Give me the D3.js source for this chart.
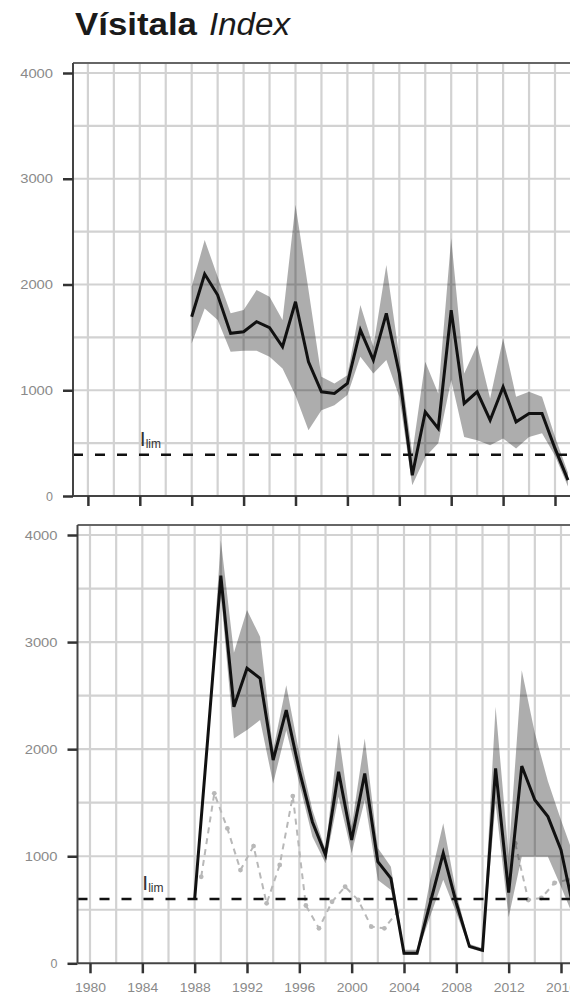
<!DOCTYPE html>
<html>
<head>
<meta charset="utf-8">
<script src="https://cdn.jsdelivr.net/npm/d3@7"></script>
<style>
  body { margin: 0; background: #fff; }
  svg { display: block; }
</style>
</head>
<body>
<svg id="chart" width="570" height="1000"></svg>
<script>
// ---- data ----
const years = [1988, 1989, 1990, 1991, 1992, 1993, 1994, 1995, 1996, 1997,
               1998, 1999, 2000, 2001, 2002, 2003, 2004, 2005, 2006, 2007,
               2008, 2009, 2010, 2011, 2012, 2013, 2014, 2015, 2016, 2017];

// upper panel: index with its confidence band
const indexA = [1695, 2099, 1900, 1538, 1553, 1648, 1591, 1411, 1837, 1269,
                985, 970, 1064, 1569, 1285, 1727, 1159, 196, 795, 638,
                1758, 875, 985, 717, 1032, 701, 780, 780, 450, 150];
const upperA = [1980, 2421, 2074, 1727, 1758, 1948, 1884, 1664, 2753, 1950,
                1127, 1064, 1143, 1806, 1411, 2185, 1316, 401, 1269, 970,
                2437, 1159, 1427, 922, 1490, 938, 985, 938, 560, 220];
const lowerA = [1443, 1774, 1664, 1364, 1373, 1373, 1316, 1206, 950, 622,
                812, 859, 954, 1316, 1159, 1285, 938, 101, 369, 500,
                1096, 559, 527, 480, 543, 449, 559, 593, 380, 90];
const limitA = 390;

// lower panel: index with its confidence band
const indexB = [600, 2100, 3620, 2396, 2755, 2661, 1898, 2365, 1800, 1320,
                1013, 1789, 1152, 1773, 949, 793, 93, 93, 562, 1028,
                562, 158, 121, 1820, 660, 1842, 1525, 1370, 1059, 480];
const upperB = [600, 2140, 3950, 2900, 3299, 3050, 1991, 2597, 1960, 1432,
                1059, 2146, 1277, 2100, 1076, 902, 127, 127, 780, 1308,
                655, 180, 140, 2396, 1000, 2736, 2150, 1700, 1338, 1000];
const lowerB = [600, 2060, 3450, 2100, 2179, 2272, 1680, 2177, 1680, 1183,
                935, 1556, 1028, 1525, 778, 684, 81, 81, 438, 780,
                469, 140, 105, 1494, 430, 996, 996, 996, 716, 420];
const limitB = 600;

// lower panel: second survey series (mid-year), with a gap 2004-2011
const surveyYears = [1988, 1989, 1990, 1991, 1992, 1993, 1994, 1995, 1996, 1997,
                     1998, 1999, 2000, 2001, 2002, 2003, 2004, 2005, 2006, 2007,
                     2008, 2009, 2010, 2011, 2012, 2013, 2014, 2015, 2016];
const surveyB = [808, 1587, 1260, 871, 1095, 560, 918, 1562, 540, 327,
                 575, 715, 591, 342, 327, 480, null, null, null, null,
                 null, null, null, null, 1120, 591, 610, 750, 780];

const yTicks = [0, 1000, 2000, 3000, 4000];
const xTicks = [1980, 1984, 1988, 1992, 1996, 2000, 2004, 2008, 2012, 2016];
const xGrid = d3.range(1980, 2020, 2);
const yGrid = d3.range(500, 4001, 500);

// ---- layout ----
const panels = [
  { top: 63, bottom: 496, y4000: 73, left: 73, x1980: 87.9, x2016: 555,
    idx: indexA, hi: upperA, lo: lowerA, limit: limitA, survey: null, labels: false },
  { top: 525, bottom: 963.3, y4000: 535, left: 77.5, x1980: 90, x2016: 561,
    idx: indexB, hi: upperB, lo: lowerB, limit: limitB, survey: surveyB, labels: true }
];
const right = 640;
const font = "'Liberation Sans', Arial, sans-serif";

const svg = d3.select("#chart");

// title
svg.append("text")
  .attr("x", 75).attr("y", 35)
  .attr("font-family", font).attr("font-weight", "bold")
  .attr("font-size", 31).attr("fill", "#1a1a1a")
  .attr("textLength", 122).attr("lengthAdjust", "spacingAndGlyphs")
  .text("Vísitala");
svg.append("text")
  .attr("x", 209).attr("y", 35)
  .attr("font-family", font).attr("font-style", "italic")
  .attr("font-size", 31).attr("fill", "#1a1a1a")
  .attr("textLength", 81).attr("lengthAdjust", "spacingAndGlyphs")
  .text("Index");

panels.forEach(p => {
  const x = d3.scaleLinear().domain([1980, 2016]).range([p.x1980, p.x2016]);
  const y = d3.scaleLinear().domain([0, 4000]).range([p.bottom, p.y4000]);
  const g = svg.append("g");

  // grid
  g.append("g").selectAll("line").data(yGrid).join("line")
    .attr("x1", p.left).attr("x2", right)
    .attr("y1", d => y(d)).attr("y2", d => y(d))
    .attr("stroke", "#d2d2d2").attr("stroke-width", 2.2);
  g.append("g").selectAll("line").data(xGrid).join("line")
    .attr("x1", d => x(d)).attr("x2", d => x(d))
    .attr("y1", p.top).attr("y2", p.bottom)
    .attr("stroke", "#d2d2d2").attr("stroke-width", 2.2);

  // second survey series, dashed grey with points
  if (p.survey) {
    const pts = surveyYears.map((yr, i) => ({ yr: yr + 0.5, v: p.survey[i] }));
    g.append("path")
      .datum(pts)
      .attr("fill", "none").attr("stroke", "#b8b8b8")
      .attr("stroke-width", 2).attr("stroke-dasharray", "6,5")
      .attr("d", d3.line().defined(d => d.v != null)
        .x(d => x(d.yr)).y(d => y(d.v)));
    g.append("g").selectAll("circle").data(pts.filter(d => d.v != null)).join("circle")
      .attr("cx", d => x(d.yr)).attr("cy", d => y(d.v)).attr("r", 2.4)
      .attr("fill", "#b8b8b8");
  }

  // confidence band
  const rows = years.map((yr, i) => ({ yr, v: p.idx[i], lo: p.lo[i], hi: p.hi[i] }));
  g.append("path")
    .datum(rows)
    .attr("fill", "#000").attr("fill-opacity", 0.32)
    .attr("d", d3.area().x(d => x(d.yr)).y0(d => y(d.lo)).y1(d => y(d.hi)));

  // limit reference line
  g.append("line")
    .attr("x1", p.left).attr("x2", right)
    .attr("y1", y(p.limit)).attr("y2", y(p.limit))
    .attr("stroke", "#111").attr("stroke-width", 2.6)
    .attr("stroke-dasharray", "10,12");
  const lab = g.append("text")
    .attr("x", x(1984)).attr("y", y(p.limit) - 9)
    .attr("font-family", font).attr("fill", "#333");
  lab.append("tspan").attr("font-size", 21).text("I");
  lab.append("tspan").attr("font-size", 12).attr("dy", 2).text("lim");

  // index line
  g.append("path")
    .datum(rows)
    .attr("fill", "none").attr("stroke", "#111").attr("stroke-width", 3)
    .attr("d", d3.line().x(d => x(d.yr)).y(d => y(d.v)));

  // frame
  g.append("line")
    .attr("x1", p.left).attr("x2", right).attr("y1", p.top).attr("y2", p.top)
    .attr("stroke", "#666").attr("stroke-width", 2);
  g.append("line")
    .attr("x1", p.left).attr("x2", p.left).attr("y1", p.top).attr("y2", p.bottom)
    .attr("stroke", "#444").attr("stroke-width", 2);
  g.append("line")
    .attr("x1", p.left).attr("x2", right).attr("y1", p.bottom).attr("y2", p.bottom)
    .attr("stroke", "#444").attr("stroke-width", 2);

  // y axis
  const ya = g.append("g").attr("transform", `translate(${p.left},0)`)
    .call(d3.axisLeft(y).tickValues(yTicks).tickSize(10).tickPadding(10)
      .tickFormat(d3.format("d")));
  ya.select(".domain").remove();
  ya.selectAll(".tick line").attr("stroke", "#333").attr("stroke-width", 2.5);
  ya.selectAll(".tick text")
    .attr("font-family", font).attr("font-size", 12.5).attr("fill", "#8a8a8a")
    .each(function (d) {
      const s = String(d);
      if (s.length > 1) d3.select(this).attr("textLength", s.length * 8.2)
        .attr("lengthAdjust", "spacingAndGlyphs");
    });

  // x axis
  const xa = g.append("g").attr("transform", `translate(0,${p.bottom})`)
    .call(d3.axisBottom(x).tickValues(xTicks).tickSize(10).tickPadding(9)
      .tickFormat(p.labels ? d3.format("d") : ""));
  xa.select(".domain").remove();
  xa.selectAll(".tick line").attr("stroke", "#333").attr("stroke-width", 2.5);
  xa.selectAll(".tick text")
    .attr("font-family", font).attr("font-size", 13).attr("fill", "#8a8a8a")
    .attr("textLength", 31).attr("lengthAdjust", "spacingAndGlyphs");
});
</script>
</body>
</html>
